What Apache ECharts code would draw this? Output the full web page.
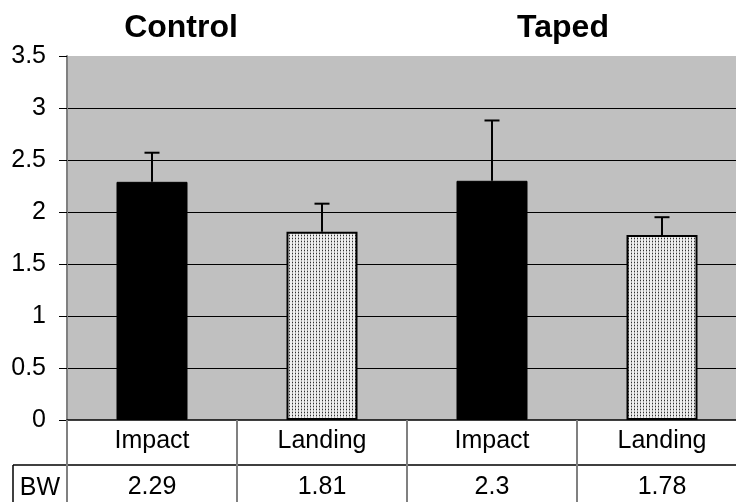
<!DOCTYPE html>
<html>
<head>
<meta charset="utf-8">
<script src="https://cdn.jsdelivr.net/npm/echarts@6/dist/echarts.min.js"></script>
<style>html,body{margin:0;padding:0;background:#fff;}#c{width:736px;height:502px;}</style>
</head>
<body>
<div id="c"></div>
<script>
var categories = ['Impact', 'Landing', 'Impact', 'Landing'];
var barValues = [2.29, 1.81, 2.30, 1.78];
var errorTops = [2.57, 2.08, 2.88, 1.95];
var bwLabels = ['2.29', '1.81', '2.3', '1.78'];
var groupTitles = ['Control', 'Taped'];
var yTicks = [0, 0.5, 1, 1.5, 2, 2.5, 3, 3.5];

// dotted pattern
var pc = document.createElement('canvas');
pc.width = 3; pc.height = 3;
var pctx = pc.getContext('2d');
pctx.fillStyle = '#efefef'; pctx.fillRect(0, 0, 3, 3);
pctx.fillStyle = '#b4b4b4'; pctx.fillRect(1, 0, 1, 3);
pctx.fillStyle = '#303030'; pctx.fillRect(1, 1, 1, 1);
var dotted = { image: pc, repeat: 'repeat' };

var chart = echarts.init(document.getElementById('c'), null, { renderer: 'canvas' });
var font = 'Arial, "Liberation Sans", sans-serif';

chart.setOption({
  animation: false,
  grid: { left: 67, top: 56, width: 680, height: 364, show: true, backgroundColor: '#C0C0C0', borderWidth: 0, outerBoundsMode: 'none', containLabel: false },
  xAxis: [{
    type: 'category', data: categories, position: 'bottom',
    axisLine: { show: true, lineStyle: { color: '#000', width: 1.5 } },
    axisTick: { show: true, length: 82, lineStyle: { color: '#808080', width: 2 } },
    axisLabel: { color: '#000', fontSize: 25, fontFamily: font, margin: 9, lineHeight: 25 },
    splitLine: { show: false }
  }, {
    type: 'category', data: bwLabels, position: 'bottom', offset: 45,
    axisLine: { show: true, lineStyle: { color: '#000', width: 1.5 } },
    axisTick: { show: false },
    axisLabel: { color: '#000', fontSize: 25, fontFamily: font, margin: 10, lineHeight: 25 },
    splitLine: { show: false }
  }],
  yAxis: {
    type: 'value', min: 0, max: 3.5, interval: 0.5,
    axisLine: { show: true, lineStyle: { color: '#808080', width: 2 } },
    axisTick: { show: true, length: 8, lineStyle: { color: '#000', width: 1 } },
    axisLabel: { color: '#000', fontSize: 25, fontFamily: font, margin: 21,
      formatter: function (v) { return String(v); } },
    splitLine: { show: true, showMaxLine: false, showMinLine: false, lineStyle: { color: '#000', width: 1 } }
  },
  series: [{
    type: 'bar', xAxisIndex: 0, barWidth: 71,
    data: barValues.map(function (v, i) {
      return {
        value: v,
        itemStyle: i % 2 === 0
          ? { color: '#000', borderColor: '#000', borderWidth: 1 }
          : { color: dotted, borderColor: '#000', borderWidth: 2 }
      };
    }),
    z: 2
  }, {
    type: 'custom', xAxisIndex: 0, z: 3,
    data: barValues.map(function (v, i) { return [i, v, errorTops[i]]; }),
    renderItem: function (params, api) {
      var base = api.coord([api.value(0), api.value(1)]);
      var top = api.coord([api.value(0), api.value(2)]);
      var hw = 7.5;
      return {
        type: 'group',
        children: [{
          type: 'line', shape: { x1: base[0], y1: base[1], x2: top[0], y2: top[1] },
          style: { stroke: '#000', lineWidth: 2 }
        }, {
          type: 'line', shape: { x1: top[0] - hw, y1: top[1], x2: top[0] + hw, y2: top[1] },
          style: { stroke: '#000', lineWidth: 2 }
        }]
      };
    }
  }],
  graphic: [
    { type: 'text', x: 181, y: 28, style: { text: groupTitles[0], font: 'bold 32px ' + font, fill: '#000', align: 'center', verticalAlign: 'middle' } },
    { type: 'text', x: 563, y: 28, style: { text: groupTitles[1], font: 'bold 32px ' + font, fill: '#000', align: 'center', verticalAlign: 'middle' } },
    { type: 'line', shape: { x1: 13, y1: 465, x2: 67, y2: 465 }, style: { stroke: '#000', lineWidth: 1.5 } },
    { type: 'line', shape: { x1: 13, y1: 465, x2: 13, y2: 502 }, style: { stroke: '#000', lineWidth: 1.5 } },
    { type: 'text', x: 40, y: 488, style: { text: 'BW', font: '25px ' + font, fill: '#000', align: 'center', verticalAlign: 'middle' } }
  ]
});
</script>
</body>
</html>
